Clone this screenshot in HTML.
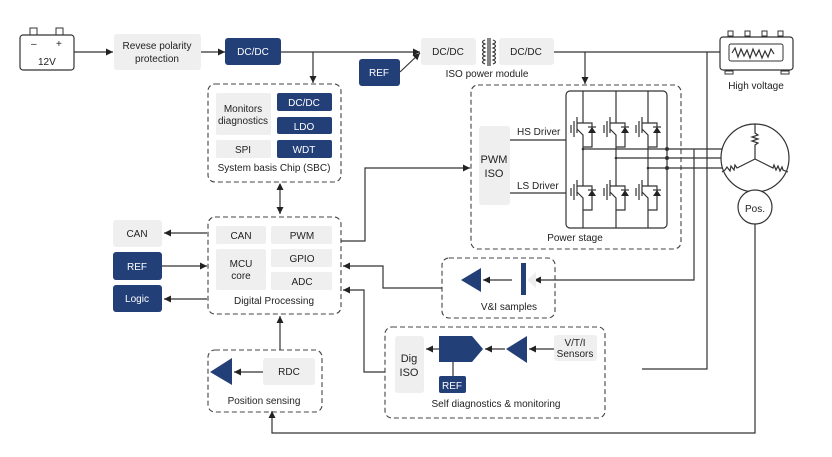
<!DOCTYPE html>
<html><head><meta charset="utf-8"><style>
html,body{margin:0;padding:0;background:#fff}
svg{display:block}
text{font-family:"Liberation Sans",sans-serif;font-size:10px;fill:#222}
.w{fill:#fff}
.g{fill:#efefef}
.n{fill:#233f78}
.ln{stroke:#333;stroke-width:1.2;fill:none}
.d{stroke:#444;stroke-width:1.1;fill:none;stroke-dasharray:5,3}
</style></head><body>
<svg width="832" height="457" viewBox="0 0 832 457" xmlns="http://www.w3.org/2000/svg">
<defs>
<marker id="a" markerWidth="8" markerHeight="8" refX="7" refY="4" orient="auto" markerUnits="userSpaceOnUse">
<path d="M0,0.5 L7,4 L0,7.5 z" fill="#222"/></marker>
<marker id="as" markerWidth="8" markerHeight="8" refX="1" refY="4" orient="auto" markerUnits="userSpaceOnUse">
<path d="M7,0.5 L0,4 L7,7.5 z" fill="#222"/></marker>
<g id="igbt">
<path class="ln" d="M0,0 V10 M0,10 H-6 V4 M-6,10 V20 M-6,16 L0,22 V34 M-9,8 V24 M-12,12 V20 M0,10 H9 V34 H0" stroke-width="0.9"/>
<path d="M5,20 L13,20 L9,14 z" fill="#222"/><path d="M5,14 H13" class="ln" stroke-width="0.9"/>
</g>
</defs>

<!-- Battery -->
<rect x="20" y="35" width="54" height="35" rx="3" class="w" stroke="#333" stroke-width="1.2"/>
<rect x="30" y="28" width="7" height="7" fill="none" stroke="#333"/>
<rect x="56" y="28" width="7" height="7" fill="none" stroke="#333"/>
<text x="31" y="47">–</text><text x="56" y="47">+</text>
<text x="38" y="65">12V</text>
<line class="ln" x1="74" y1="52" x2="113" y2="52" marker-end="url(#a)"/>
<rect x="114" y="34" width="87" height="36" rx="3" class="g"/>
<text x="157" y="49" text-anchor="middle">Revese polarity</text>
<text x="157" y="62" text-anchor="middle">protection</text>
<line class="ln" x1="201" y1="52" x2="225" y2="52" marker-end="url(#a)"/>
<rect x="225" y="38" width="56" height="27" rx="3" class="n"/>
<text x="253" y="55" text-anchor="middle" fill="#fff" style="fill:#fff">DC/DC</text>
<line class="ln" x1="281" y1="52" x2="420" y2="52" marker-end="url(#a)"/>
<line class="ln" x1="313" y1="52" x2="313" y2="83" marker-end="url(#a)"/>
<rect x="359" y="59" width="41" height="27" rx="3" class="n"/>
<text x="379" y="76" text-anchor="middle" style="fill:#fff">REF</text>
<line class="ln" x1="400" y1="72" x2="420" y2="53" marker-end="url(#a)"/>

<!-- SBC -->
<rect x="208" y="84" width="133" height="98" rx="7" class="d"/>
<rect x="216" y="93" width="55" height="42" rx="2" class="g"/>
<text x="243" y="112" text-anchor="middle">Monitors</text>
<text x="243" y="124" text-anchor="middle">diagnostics</text>
<rect x="277" y="93" width="55" height="18" rx="2" class="n"/><text x="304" y="106" text-anchor="middle" style="fill:#fff">DC/DC</text>
<rect x="277" y="117" width="55" height="17" rx="2" class="n"/><text x="304" y="130" text-anchor="middle" style="fill:#fff">LDO</text>
<rect x="216" y="140" width="55" height="18" rx="2" class="g"/><text x="243" y="153" text-anchor="middle">SPI</text>
<rect x="277" y="140" width="55" height="18" rx="2" class="n"/><text x="304" y="153" text-anchor="middle" style="fill:#fff">WDT</text>
<text x="274" y="171" text-anchor="middle">System basis Chip (SBC)</text>
<line class="ln" x1="280" y1="184" x2="280" y2="214" marker-end="url(#a)" marker-start="url(#as)"/>

<!-- ISO power module -->
<rect x="421" y="38" width="55" height="27" rx="3" class="g"/><text x="448" y="55" text-anchor="middle">DC/DC</text>
<path class="ln" stroke-width="0.9" d="M485,40 q-5,2 0,4 q-5,2 0,4 q-5,2 0,4 q-5,2 0,4 q-5,2 0,4 q-5,2 0,4 M488,38 V66 M490,38 V66 M493,40 q5,2 0,4 q5,2 0,4 q5,2 0,4 q5,2 0,4 q5,2 0,4 q5,2 0,4"/>
<rect x="499" y="38" width="55" height="27" rx="3" class="g"/><text x="526" y="55" text-anchor="middle">DC/DC</text>
<text x="487" y="77" text-anchor="middle">ISO power module</text>
<line class="ln" x1="554" y1="52" x2="720" y2="52"/>
<line class="ln" x1="585" y1="52" x2="585" y2="84" marker-end="url(#a)"/>

<!-- High voltage -->
<rect x="720" y="37" width="73" height="33" rx="3" class="w" stroke="#333" stroke-width="1.2"/>
<rect x="729" y="44" width="54" height="17" rx="2" fill="none" stroke="#333"/>
<path class="ln" stroke-width="0.9" d="M732,53 l3,-5 l3,9 l3,-8 l3,7 l3,-6 l3,8 l3,-9 l3,7 l3,-6 l3,8 l3,-7 l3,6 l3,-8 l3,5"/>
<rect x="728" y="31" width="5" height="5" fill="none" stroke="#333"/><rect x="745" y="31" width="5" height="5" fill="none" stroke="#333"/>
<rect x="762" y="31" width="5" height="5" fill="none" stroke="#333"/><rect x="778" y="31" width="5" height="5" fill="none" stroke="#333"/>
<rect x="725" y="71" width="8" height="3" fill="none" stroke="#333"/><rect x="781" y="71" width="8" height="3" fill="none" stroke="#333"/>
<text x="756" y="89" text-anchor="middle">High voltage</text>

<!-- Power stage -->
<rect x="471" y="85" width="210" height="164" rx="7" class="d"/>
<rect x="479" y="126" width="31" height="79" rx="3" class="g"/>
<text x="494" y="163" text-anchor="middle" style="font-size:11px">PWM</text>
<text x="494" y="177" text-anchor="middle" style="font-size:11px">ISO</text>
<line class="ln" x1="510" y1="140" x2="566" y2="140"/><text x="517" y="135">HS Driver</text>
<line class="ln" x1="510" y1="193" x2="566" y2="193"/><text x="517" y="189">LS Driver</text>
<rect x="566" y="91" width="101" height="137" rx="4" fill="none" stroke="#333" stroke-width="1.2"/>
<g>
<line class="ln" stroke-width="0.9" x1="583" y1="91" x2="583" y2="113"/><line class="ln" stroke-width="0.9" x1="616" y1="91" x2="616" y2="113"/><line class="ln" stroke-width="0.9" x1="648" y1="91" x2="648" y2="113"/>
<use href="#igbt" x="583" y="113"/><use href="#igbt" x="616" y="113"/><use href="#igbt" x="648" y="113"/>
<line class="ln" stroke-width="0.9" x1="583" y1="147" x2="583" y2="176"/><line class="ln" stroke-width="0.9" x1="616" y1="147" x2="616" y2="176"/><line class="ln" stroke-width="0.9" x1="648" y1="147" x2="648" y2="176"/>
<use href="#igbt" x="583" y="176"/><use href="#igbt" x="616" y="176"/><use href="#igbt" x="648" y="176"/>
<line class="ln" stroke-width="0.9" x1="583" y1="210" x2="583" y2="228"/><line class="ln" stroke-width="0.9" x1="616" y1="210" x2="616" y2="228"/><line class="ln" stroke-width="0.9" x1="648" y1="210" x2="648" y2="228"/>
</g>
<line class="ln" x1="583" y1="149" x2="723" y2="149"/>
<line class="ln" x1="616" y1="158" x2="722" y2="158"/>
<line class="ln" x1="648" y1="168" x2="725" y2="168"/>
<circle cx="667" cy="149" r="2" fill="#333"/><circle cx="667" cy="158" r="2" fill="#333"/><circle cx="667" cy="168" r="2" fill="#333"/>
<circle cx="583" cy="149" r="1.3" fill="#333"/><circle cx="616" cy="158" r="1.3" fill="#333"/><circle cx="648" cy="168" r="1.3" fill="#333"/>
<text x="575" y="241" text-anchor="middle">Power stage</text>

<!-- motor -->
<circle cx="755" cy="158" r="34" class="w" stroke="#333" stroke-width="1.2"/>
<path class="ln" stroke-width="0.9" d="M755,124 V133 l3,2 l-6,2 l6,2 l-6,2 l6,2 l-3,2 V159 M755,159 L737,168 l-2,-3 l-1,5 l-3,-4 l-1,5 l-3,-4 l-2,3 L722,172 M755,159 L773,168 l1,-3 l2,5 l2,-4 l2,5 l2,-4 l1,3 L788,172"/>
<circle cx="755" cy="207" r="17" class="w" stroke="#333" stroke-width="1.2"/>
<text x="755" y="212" text-anchor="middle">Pos.</text>
<polyline class="ln" points="755,224 755,433 272,433 272,411" marker-end="url(#a)"/>

<!-- HV verticals -->
<polyline class="ln" points="707,52 707,369 642,369"/>
<polyline class="ln" points="694,149 694,280 534,280" marker-end="url(#a)"/>

<!-- Digital processing -->
<rect x="208" y="217" width="133" height="97" rx="7" class="d"/>
<rect x="216" y="226" width="50" height="18" rx="2" class="g"/><text x="241" y="239" text-anchor="middle">CAN</text>
<rect x="271" y="226" width="61" height="18" rx="2" class="g"/><text x="302" y="239" text-anchor="middle">PWM</text>
<rect x="216" y="249" width="50" height="41" rx="2" class="g"/><text x="241" y="267" text-anchor="middle">MCU</text><text x="241" y="279" text-anchor="middle">core</text>
<rect x="271" y="249" width="61" height="18" rx="2" class="g"/><text x="302" y="262" text-anchor="middle">GPIO</text>
<rect x="271" y="272" width="61" height="18" rx="2" class="g"/><text x="302" y="285" text-anchor="middle">ADC</text>
<text x="274" y="304" text-anchor="middle">Digital Processing</text>
<rect x="113" y="220" width="49" height="27" rx="3" class="g"/><text x="137" y="237" text-anchor="middle">CAN</text>
<rect x="113" y="252" width="49" height="28" rx="3" class="n"/><text x="137" y="270" text-anchor="middle" style="fill:#fff">REF</text>
<rect x="113" y="285" width="49" height="27" rx="3" class="n"/><text x="137" y="302" text-anchor="middle" style="fill:#fff">Logic</text>
<line class="ln" x1="207" y1="233" x2="164" y2="233" marker-end="url(#a)"/>
<line class="ln" x1="162" y1="266" x2="207" y2="266" marker-end="url(#a)"/>
<line class="ln" x1="207" y1="299" x2="164" y2="299" marker-end="url(#a)"/>
<polyline class="ln" points="341,241 365,241 365,168 470,168" marker-end="url(#a)"/>

<!-- V&I -->
<rect x="442" y="258" width="113" height="60" rx="7" class="d"/>
<path d="M461,280 L481,268 L481,292 z" class="n"/>
<line class="ln" x1="512" y1="280" x2="483" y2="280" marker-end="url(#a)"/>
<path d="M527,280 L536,272 L536,288 z" fill="#eee"/>
<rect x="521" y="263" width="5" height="32" class="n"/>
<text x="509" y="310" text-anchor="middle">V&amp;I samples</text>
<polyline class="ln" points="442,288 383,288 383,266 343,266" marker-end="url(#a)"/>
<polyline class="ln" points="385,372 364,372 364,290 343,290" marker-end="url(#a)"/>

<!-- Self diag -->
<rect x="385" y="327" width="220" height="91" rx="7" class="d"/>
<rect x="395" y="336" width="29" height="57" rx="3" class="g"/>
<text x="409" y="362" text-anchor="middle" style="font-size:11px">Dig</text><text x="409" y="376" text-anchor="middle" style="font-size:11px">ISO</text>
<path d="M439,336 H472 L483,349 L472,362 H439 z" class="n"/>
<line class="ln" x1="439" y1="349" x2="426" y2="349" marker-end="url(#a)"/>
<line class="ln" x1="453" y1="362" x2="453" y2="376"/>
<rect x="439" y="376" width="27" height="17" rx="2" class="n"/><text x="452" y="389" text-anchor="middle" style="fill:#fff">REF</text>
<path d="M506,349 L527,336 L527,363 z" class="n"/>
<line class="ln" x1="505" y1="349" x2="485" y2="349" marker-end="url(#a)"/>
<rect x="554" y="335" width="43" height="26" rx="3" class="g"/>
<text x="575" y="346" text-anchor="middle">V/T/I</text><text x="575" y="357" text-anchor="middle">Sensors</text>
<line class="ln" x1="554" y1="349" x2="529" y2="349" marker-end="url(#a)"/>
<text x="496" y="407" text-anchor="middle">Self diagnostics &amp; monitoring</text>

<!-- Position sensing -->
<rect x="208" y="350" width="114" height="62" rx="7" class="d"/>
<path d="M210,372 L232,358 L232,385 z" class="n"/>
<rect x="263" y="358" width="52" height="27" rx="3" class="g"/><text x="289" y="375" text-anchor="middle">RDC</text>
<line class="ln" x1="263" y1="372" x2="234" y2="372" marker-end="url(#a)"/>
<text x="264" y="404" text-anchor="middle">Position sensing</text>
<line class="ln" x1="280" y1="350" x2="280" y2="316" marker-end="url(#a)"/>
</svg>
</body></html>
